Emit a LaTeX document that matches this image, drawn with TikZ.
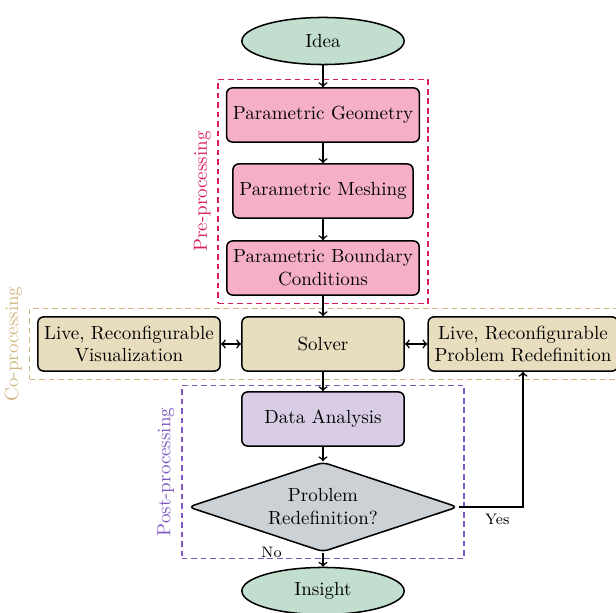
\documentclass[tikz,border=0pt]{standalone}
\usetikzlibrary{shapes.geometric,fit}
\definecolor{termgreen}{RGB}{193,222,206}
\definecolor{prepink}{RGB}{245,176,200}
\definecolor{cotan}{RGB}{232,222,191}
\definecolor{postlav}{RGB}{216,205,228}
\definecolor{decgray}{RGB}{204,209,213}
\definecolor{precol}{RGB}{216,27,96}
\definecolor{cocol}{RGB}{208,183,128}
\definecolor{postcol}{RGB}{126,87,194}
\begin{document}
\begin{tikzpicture}[x=0.526pt,y=-0.526pt,
  block/.style={draw, thick, rounded corners=3pt, minimum width=3cm, minimum height=1cm, align=center},
  terminal/.style={draw, thick, ellipse, fill=termgreen, minimum width=3cm, minimum height=0.87cm},
  decision/.style={draw, thick, diamond, aspect=3, rounded corners=3pt, fill=decgray, align=center},
  flow/.style={draw, thick, ->},
  group/.style={draw, thick, dash pattern=on 3pt off 2pt, inner sep=4.5pt},
  grouplabel/.style={rotate=90, anchor=south},
  lbl/.style={font=\footnotesize}]
\useasboundingbox (0,0) rectangle (616,613);

\node[terminal] (idea) at (323,41) {Idea};
\node[block, fill=prepink] (geom) at (323,115) {Parametric Geometry};
\node[block, fill=prepink] (mesh) at (323,191) {Parametric Meshing};
\node[block, fill=prepink] (bc) at (323,268) {Parametric Boundary\\Conditions};
\node[block, fill=cotan] (solver) at (323,344) {Solver};
\node[block, fill=cotan] (vis) at (129,344) {Live, Reconfigurable\\Visualization};
\node[block, fill=cotan] (redef) at (523,344) {Live, Reconfigurable\\Problem Redefinition};
\node[block, fill=postlav] (analysis) at (323,419) {Data Analysis};
\node[decision] (dec) at (323,507) {Problem\\Redefinition?};
\node[terminal] (insight) at (323,591) {Insight};

\node[group, draw=precol, inner sep=4pt, fit=(geom)(mesh)(bc)] (pre) {};
\node[group, draw=cocol, inner sep=4pt, fit=(vis)(solver)(redef)] (co) {};
\node[group, draw=postcol, inner sep=3pt, fit=(analysis)(dec)] (post) {};
\node[grouplabel, text=precol] (prelabel) at (pre.west) {Pre-processing};
\node[grouplabel, text=cocol] (colabel) at (co.west) {Co-processing};
\node[grouplabel, text=postcol] (postlabel) at (post.west) {Post-processing};

\path[flow] (idea) -- (geom);
\path[flow] (geom) -- (mesh);
\path[flow] (mesh) -- (bc);
\path[flow] (bc) -- (solver);
\path[flow,<->] (solver) -- (vis);
\path[flow,<->] (solver) -- (redef);
\path[flow] (solver) -- (analysis);
\path[flow] (analysis) -- (dec);
\path[flow] (dec) -- node[lbl, pos=0, left=18pt] {No} (insight);
\path[flow] (dec.east) -| node[lbl, pos=0.3, below] {Yes} (redef.south);
\end{tikzpicture}
\end{document}
